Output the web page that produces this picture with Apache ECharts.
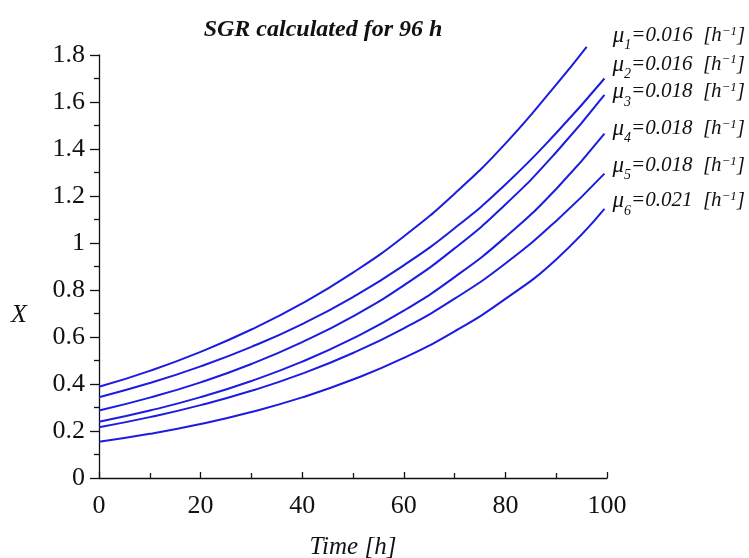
<!DOCTYPE html>
<html>
<head>
<meta charset="utf-8">
<script src="https://cdn.jsdelivr.net/npm/echarts@6/dist/echarts.min.js"></script>
<style>
  html, body { margin: 0; padding: 0; background: #fff; }
  #chart { width: 749px; height: 558px; }
</style>
</head>
<body>
<div id="chart"></div>
<script>
// time points [h]
const timeShort = [0, 10, 20, 30, 40, 50, 60, 70, 80, 90, 96];
const timeLong = [0, 10, 20, 30, 40, 50, 60, 70, 80, 90, 99.5];

// biomass X
const x1 = [0.388, 0.456, 0.537, 0.632, 0.743, 0.874, 1.028, 1.21, 1.423, 1.674, 1.835];
const x2 = [0.344, 0.404, 0.475, 0.558, 0.655, 0.77, 0.905, 1.063, 1.249, 1.468, 1.70];
const x3 = [0.287, 0.342, 0.407, 0.485, 0.578, 0.688, 0.82, 0.977, 1.164, 1.386, 1.63];
const x4 = [0.239, 0.287, 0.344, 0.413, 0.495, 0.594, 0.712, 0.855, 1.025, 1.23, 1.465];
const x5 = [0.216, 0.259, 0.31, 0.371, 0.444, 0.532, 0.637, 0.763, 0.913, 1.094, 1.295];
const x6 = [0.154, 0.188, 0.23, 0.281, 0.343, 0.419, 0.511, 0.624, 0.762, 0.93, 1.145];

const muNames = ["1", "2", "3", "4", "5", "6"];
const muValues = ["0.016", "0.016", "0.018", "0.018", "0.018", "0.021"];

const xTicks = [0, 20, 40, 60, 80, 100];
const yTicks = [0, 0.2, 0.4, 0.6, 0.8, 1, 1.2, 1.4, 1.6, 1.8];

const lineColor = "#1c1ce0";
const serif = "'Liberation Serif', 'DejaVu Serif', serif";

const chart = echarts.init(document.getElementById("chart"));

const curves = [
  { t: timeShort, v: x1, offset: [21, -11] },
  { t: timeLong, v: x2, offset: [3, -14] },
  { t: timeLong, v: x3, offset: [3, -3] },
  { t: timeLong, v: x4, offset: [3, -5] },
  { t: timeLong, v: x5, offset: [3, -8] },
  { t: timeLong, v: x6, offset: [3, -8] },
];

const labelRich = {
  mu: { fontFamily: serif, fontStyle: "italic", fontSize: 23, color: "#111", lineHeight: 26 },
  sub: { fontFamily: serif, fontStyle: "italic", fontSize: 14, color: "#111", lineHeight: 26, verticalAlign: "bottom", padding: [0, 0, -4, 0] },
  t: { fontFamily: serif, fontStyle: "italic", fontSize: 21, color: "#111", lineHeight: 26 },
  sup: { fontFamily: serif, fontStyle: "italic", fontSize: 13, color: "#111", lineHeight: 26, verticalAlign: "top", padding: [2, 0, 0, 0] },
};

const series = curves.map((c, i) => ({
  name: "mu" + muNames[i],
  type: "line",
  smooth: true,
  showSymbol: false,
  symbol: "none",
  clip: false,
  lineStyle: { color: lineColor, width: 2 },
  data: c.t.map((t, k) => [t, c.v[k]]),
  endLabel: {
    show: true,
    distance: 5,
    offset: c.offset,
    formatter: () =>
      "{mu|μ}{sub|" + muNames[i] + "}{t|=" + muValues[i] + "  [h}{sup|−1}{t|]}",
    rich: labelRich,
  },
  animation: false,
}));

const option = {
  animation: false,
  backgroundColor: "#fff",
  title: {
    text: "SGR calculated for 96 h",
    left: 318,
    top: 13,
    textAlign: "center",
    textStyle: {
      fontFamily: serif,
      fontStyle: "italic",
      fontWeight: "bold",
      fontSize: 24,
      color: "#111",
    },
  },
  grid: {
    left: 99,
    right: 142,
    top: 55,
    bottom: 80,
    outerBoundsMode: "none",
  },
  graphic: [
    {
      type: "text",
      left: 11,
      top: 302,
      style: {
        text: "X",
        font: "italic 26px " + serif,
        fill: "#111",
      },
    },
  ],
  xAxis: {
    type: "value",
    min: 0,
    max: 100,
    interval: 20,
    name: "Time [h]",
    nameLocation: "middle",
    nameGap: 57,
    nameTextStyle: {
      fontFamily: serif,
      fontStyle: "italic",
      fontSize: 25,
      color: "#111",
    },
    axisLine: { show: true, lineStyle: { color: "#111", width: 1.3 } },
    axisTick: { show: true, inside: true, length: 6, lineStyle: { color: "#111", width: 1.3 } },
    minorTick: { show: true, splitNumber: 2, length: 5, lineStyle: { color: "#111", width: 1.3 } },
    axisLabel: {
      fontFamily: serif,
      fontSize: 26,
      color: "#111",
      margin: 15,
      formatter: (v) => (xTicks.includes(v) ? String(v) : ""),
    },
    splitLine: { show: false },
  },
  yAxis: {
    type: "value",
    min: 0,
    max: 1.8,
    interval: 0.2,
    axisLine: { show: true, lineStyle: { color: "#111", width: 1.3 } },
    axisTick: { show: true, inside: false, length: 9, lineStyle: { color: "#111", width: 1.3 } },
    minorTick: { show: true, splitNumber: 2, length: 5, lineStyle: { color: "#111", width: 1.3 } },
    axisLabel: {
      fontFamily: serif,
      fontSize: 26,
      color: "#111",
      margin: 14,
      formatter: (v) => {
        const hit = yTicks.find((y) => Math.abs(y - v) < 1e-6);
        return hit === undefined ? "" : String(hit);
      },
    },
    splitLine: { show: false },
  },
  series: series,
};

chart.setOption(option);
</script>
</body>
</html>
